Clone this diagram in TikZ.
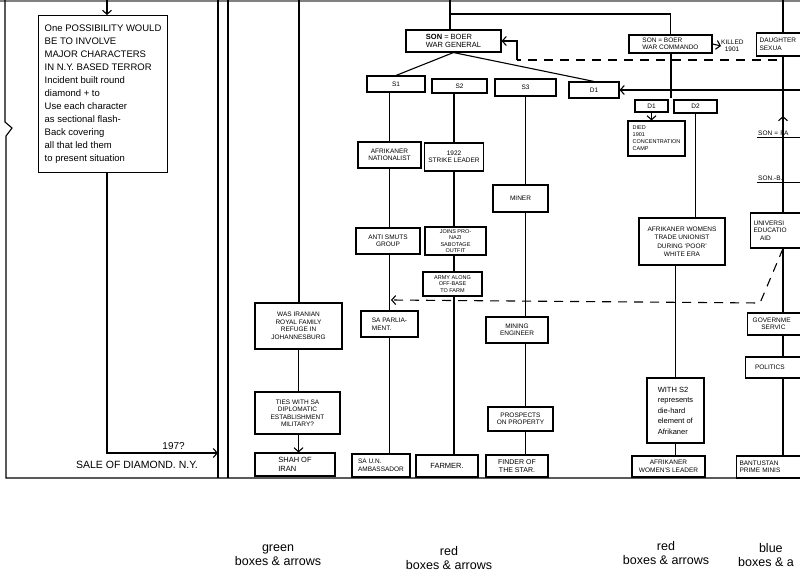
\documentclass[tikz,border=0pt]{standalone}
\usepackage{fontspec}
\setmainfont{Liberation Sans}
\usetikzlibrary{arrows.meta}
\usetikzlibrary{positioning}

\begin{document}
\begin{tikzpicture}[x=1pt,y=-1pt,
	ln/.style={line width=1.1pt},
	box/.style={draw, line width=1.1pt, inner sep=1pt, align=center, font=\fontsize{6.5}{7.5}\selectfont},
	sz/.style 2 args={minimum width=#1pt, minimum height=#2pt},
	rbox/.style={box, anchor=west, text width=64pt, align=left, inner sep=3pt},
	barb/.style={-{Straight Barb[length=4pt,width=9pt]}},
	ul/.style={anchor=south west, text width=46pt, inner sep=1pt, font=\fontsize{6.5}{7.5}\selectfont,
		append after command={(\tikzlastnode.south west) edge[line width=0.8pt] (\tikzlastnode.south east)}},
	lbl/.style={font=\fontsize{12.5}{14.5}\selectfont, align=center}]
	\useasboundingbox (0,0) rectangle (800,575);
	\clip (0,0) rectangle (800,575);
	% page frame
	\draw[gray, line width=2pt] (0,1) -- (800,1);
	\draw[ln] (5,0) -- (5,122) -- (12,128) -- (6,136) -- (6,478) -- (800,478);
	\draw[ln] (218,0) -- (218,478);
	\draw[ln] (228,0) -- (228,478);

	% note and diamond sale
	\node[box, sz={129}{157}, anchor=north west, align=left, inner sep=3pt, font=\fontsize{9.5}{13}\selectfont] (note) at (38,15)
		{One POSSIBILITY WOULD\\BE TO INVOLVE\\MAJOR CHARACTERS\\IN N.Y. BASED TERROR\\Incident built round\\diamond + to\\Use each character\\as sectional flash-\\Back covering\\all that led them\\to present situation};
	\node[font=\fontsize{10.5}{12}\selectfont] (saletxt) at (137,465) {SALE OF DIAMOND. N.Y.};
	\coordinate (notetop) at (107,0);
	\coordinate (sale) at (218,453);
	\draw[ln,barb] (notetop) -- (note.north -| notetop);
	\draw[ln,barb] (note.south -| notetop) |- node[above, pos=0.8, font=\fontsize{10}{12}\selectfont] {197?} (sale);

	% boer war generation
	\node[box, sz={95}{22}, align=left, font=\fontsize{7.5}{8.5}\selectfont] (gen) at (453.5,41) {\textbf{SON} = BOER\\WAR GENERAL};
	\node[box, sz={83}{18}, align=left, font=\fontsize{6.5}{7.5}\selectfont] (cmdo) at (670.5,44) {SON = BOER\\WAR COMMANDO};
	\node[anchor=west, align=left, inner sep=0pt, font=\fontsize{6.5}{7.5}\selectfont] (killed) at (721,46) {KILLED\\\ \ 1901};
	\node[rbox, minimum height=23pt] (daughter) at (756,44.5) {DAUGHTER\\SEXUA};
	\node[box, sz={58}{16}] (s1) at (396,84) {S1};
	\node[box, sz={55}{14}] (s2) at (459.5,86) {S2};
	\node[box, sz={61}{17}] (s3) at (525.5,87.5) {S3};
	\node[box, sz={50}{16}] (d1) at (594,90) {D1};
	\node[box, sz={33}{12}] (d1b) at (651.5,106) {D1};
	\node[box, sz={43}{13}] (d2) at (695.5,106.5) {D2};
	\node[box, sz={57}{35}, font=\fontsize{5.5}{7}\selectfont, align=left] (died) at (656.5,138.5) {DIED\\1901\\CONCENTRATION\\CAMP};

	% S1, S2, S3 lines
	\node[box, sz={63}{26}] (natl) at (389.5,155) {AFRIKANER\\NATIONALIST};
	\node[box, sz={59}{28}] (strike) at (454,157) {1922\\STRIKE LEADER};
	\node[box, sz={55}{27}, align=left] (miner) at (520.5,198.5) {MINER};
	\node[box, sz={64}{26}] (antismuts) at (388,241) {ANTI SMUTS\\GROUP};
	\node[box, sz={61}{28}, font=\fontsize{5.5}{6.5}\selectfont] (nazi) at (455.5,241) {JOINS PRO-\\NAZI\\SABOTAGE\\OUTFIT};
	\node[box, sz={59}{24}, font=\fontsize{5.5}{6.5}\selectfont] (army) at (452.5,284) {ARMY ALONG\\OFF-BASE\\TO FARM};
	\node[box, sz={57}{26}, align=left] (parl) at (389.5,324) {SA PARLIA-\\MENT.};
	\node[box, sz={62}{26}] (mineng) at (517,330) {MINING\\ENGINEER};
	\node[box, sz={65}{24}] (prosp) at (520.5,419) {PROSPECTS\\ON PROPERTY};
	\node[box, sz={58}{23}, align=left] (amb) at (381,465.5) {SA U.N.\\AMBASSADOR};
	\node[box, sz={62}{22}, font=\fontsize{7.5}{8.5}\selectfont] (farmer) at (447,466) {FARMER.};
	\node[box, sz={62}{22}, font=\fontsize{7}{8}\selectfont] (finder) at (517,466) {FINDER OF\\THE STAR.};

	% iranian line
	\node[box, sz={87}{46}] (iranian) at (298.5,326) {WAS IRANIAN\\ROYAL FAMILY\\REFUGE IN\\JOHANNESBURG};
	\node[box, sz={85}{42}] (ties) at (297.5,413) {TIES WITH SA\\DIPLOMATIC\\ESTABLISHMENT\\MILITARY?};
	\node[box, sz={80}{23}, align=left, font=\fontsize{7.5}{8.5}\selectfont] (shah) at (295,464.5) {SHAH OF\\IRAN};

	% D2 line
	\node[box, sz={86}{47}, font=\fontsize{6.5}{8.5}\selectfont] (womens) at (682,241.5) {AFRIKANER WOMENS\\TRADE UNIONIST\\DURING `POOR'\\WHITE ERA};
	\node[box, sz={57}{65}, align=left, font=\fontsize{7.5}{10.5}\selectfont] (withs2) at (675.5,410.5) {WITH S2\\represents\\die-hard\\element of\\Afrikaner};
	\node[box, sz={73}{21}] (wleader) at (668.5,466.5) {AFRIKANER\\WOMEN'S LEADER};

	% right edge
	\node[ul] (sonfa) at (757,137) {SON = FA};
	\node[ul] (sonb) at (757,182) {SON.-B.};
	\node[rbox, minimum height=35pt] (univ) at (750,230.5) {UNIVERSI\\EDUCATIO\\\ \ \ AID};
	\node[rbox, minimum height=22pt] (govt) at (747,324) {\ GOVERNME\\\ \ \ \ \ SERVIC};
	\node[rbox, minimum height=21pt] (politics) at (745,367.5) {\ \ \ POLITICS};
	\node[rbox, minimum height=22pt] (bantu) at (736,467) {BANTUSTAN\\PRIME MINIS};

	% colour notes
	\node[lbl] (green) at (278,555) {green\\boxes \& arrows};
	\node[lbl] (red1) at (449,558) {red\\boxes \& arrows};
	\node[lbl] (red2) at (666,553) {red\\boxes \& arrows};
	\node[lbl, anchor=west, align=left, inner sep=0pt] (blue) at (738,555) {\ \ \ \ \ \ blue\\boxes \& a};

	% connectors
	\coordinate (gtop) at (450,0);
	\coordinate (gbend) at (450,14);
	\draw[ln] (gtop) -- (gen.north -| gtop);
	\draw[ln] (gbend) -| (cmdo.north);
	\draw[ln] (gen.south) -- (s1.north);
	\draw[ln] (gen.south) -- (d1.north);
	\draw[ln,barb] (cmdo.east) -- (killed.west);
	\coordinate (dsplit) at (671,98);
	\draw[ln] (cmdo.south -| dsplit) -- (dsplit);
	\coordinate (redge) at (800,90);
	\draw[ln,barb] (redge) -- (d1.east);
	\draw[ln,barb] (d1b.south) -- (died.north -| d1b);
	\draw[ln] (d2.south) -- (womens.north -| d2);
	\draw[ln] (womens.south -| withs2) -- (withs2.north);
	\draw[ln] (withs2.south) -- (wleader.north -| withs2);
	\foreach \a/\b/\c in {s1/natl/natl, natl/antismuts/natl, antismuts/parl/natl, parl/amb/natl,
		s2/strike/strike, strike/nazi/strike, nazi/army/strike, army/farmer/strike,
		s3/miner/s3, miner/mineng/s3, mineng/prosp/s3, prosp/finder/s3,
		iranian/ties/iranian}
		\draw[ln] (\a.south -| \c) -- (\b.north -| \c);
	\draw[ln,barb] (ties.south -| iranian) -- (shah.north -| iranian);
	\coordinate (itop) at (299,0);
	\draw[ln] (itop) -- (iranian.north -| itop);
	% right column
	\coordinate (rtop) at (783,0);
	\draw[ln] (rtop) -- (daughter.north -| rtop);
	\draw[ln] (daughter.south -| rtop) -- (univ.north -| rtop);
	\draw[ln,barb] (sonfa.north -| rtop) -- ++(0,-14);
	\foreach \a/\b in {univ/govt, govt/politics, politics/bantu}
		\draw[ln] (\a.south -| rtop) -- (\b.north -| rtop);
	% dashed links
	\coordinate (dashA) at (777,60);
	\coordinate (dashB) at (517,60);
	\draw[ln, dash pattern=on 9pt off 7pt] (dashA) -- (dashB);
	\draw[ln,barb] (dashB) -- (dashB |- gen.east) -- (gen.east);
	\coordinate (dashC) at (760,303);
	\coordinate (dashD) at (391,300);
	\draw[ln, dash pattern=on 9pt off 7pt, barb] (univ.south -| rtop) -- (dashC) -- (dashD);
\end{tikzpicture}
\end{document}
